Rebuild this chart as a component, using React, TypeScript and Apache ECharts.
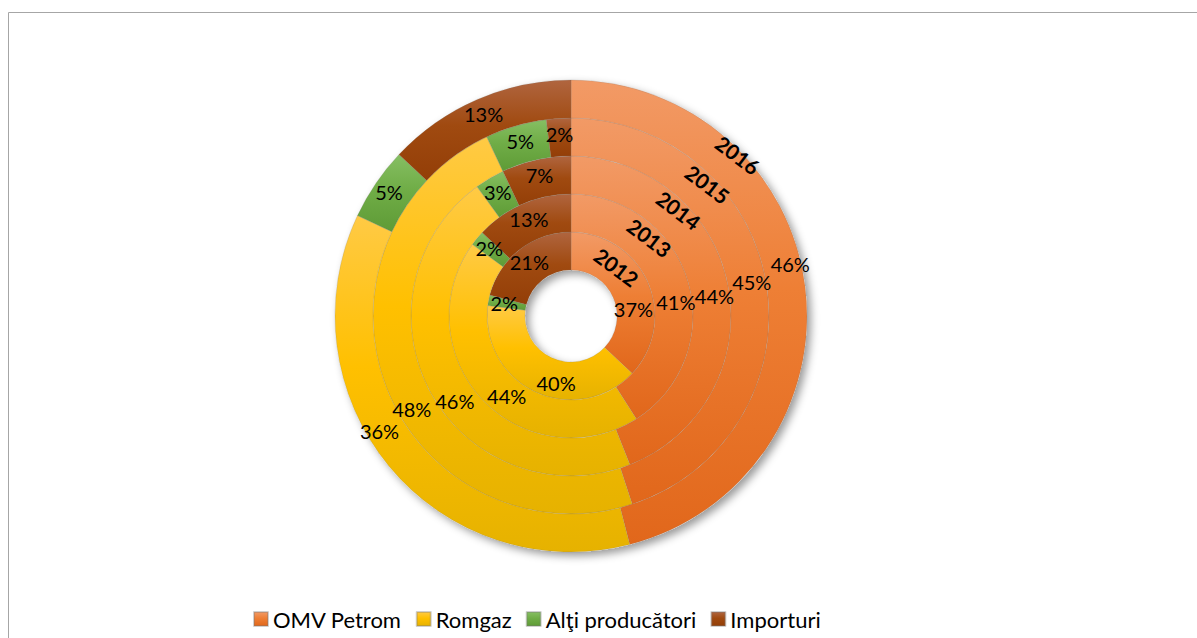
import React, { useEffect, useRef } from "react";
import * as echarts from "echarts";

const years = ["2012", "2013", "2014", "2015", "2016"];
const producers = ["OMV Petrom", "Romgaz", "Alţi producători", "Importuri"];
const omvPetrom = [37, 41, 44, 45, 46];
const romgaz = [40, 44, 46, 48, 36];
const altiProducatori = [2, 2, 3, 5, 5];
const importuri = [21, 13, 7, 2, 13];

// styling / layout (not data)
const CX = 571;
const CY = 316;
const HOLE = 46;
const RING = 38;
const palette = [
  ["#F29A66", "#EE7F35", "#E1671B"],
  ["#FFCA45", "#FFC000", "#E6B200"],
  ["#86BF63", "#70AD47", "#5E9B36"],
  ["#B0653F", "#A04A10", "#933E07"],
];
// manual label nudges [dx, dy] per ring, per producer
const labelNudge = [
  [[0, 20], [14, 5], [0, 0], [0, 0]],
  [[3, 16], [13, 7], [0, 0], [0, 0]],
  [[2, 7], [10, 16], [0, 0], [0, 0]],
  [[1, -6], [10, 26], [0, 0], [0, 0]],
  [[1, -24], [-22, -25], [0, 0], [0, 0]],
];
// year label placement: [radius, angle from top, clockwise]
const yearLabelPos = [
  [67, 43],
  [111, 45],
  [151, 45.5],
  [190, 46],
  [232, 46],
];

const FONT = "Lato, 'Open Sans', sans-serif";

export default function App() {
  const ref = useRef<HTMLDivElement>(null);
  useEffect(() => {
    if (!ref.current) return;
    const chart = echarts.init(ref.current, null, { renderer: "svg" });
    const allSeries = [omvPetrom, romgaz, altiProducatori, importuri];

    const grad = (c: string[]) =>
      new echarts.graphic.LinearGradient(0, 0, 0, 1, [
        { offset: 0, color: c[0] },
        { offset: 0.45, color: c[1] },
        { offset: 1, color: c[2] },
      ]);

    const ringSeries = years.map((yr, yi) => ({
      type: "pie",
      name: yr,
      center: [CX, CY],
      radius: [HOLE + yi * RING, HOLE + (yi + 1) * RING],
      startAngle: 90,
      clockwise: true,
      avoidLabelOverlap: false,
      minShowLabelAngle: 0,
      z: 2,
      label: {
        show: true,
        position: "inside",
        formatter: "{c}%",
        color: "#000",
        fontFamily: FONT,
        fontSize: 20,
      },
      labelLine: { show: false },
      labelLayout: (p: any) => {
        const n = labelNudge[yi][p.dataIndex] || [0, 0];
        return { dx: n[0], dy: n[1] };
      },
      itemStyle: {
        borderColor: "rgba(120,120,120,0.35)",
        borderWidth: 0.6,
      },
      emphasis: { disabled: true },
      data: producers.map((p, pi) => ({
        name: p,
        value: allSeries[pi][yi],
        itemStyle: { color: grad(palette[pi]) },
      })),
    }));

    const shadowSeries = {
      type: "pie",
      name: "shadow",
      center: [CX, CY],
      radius: [HOLE, HOLE + years.length * RING],
      silent: true,
      z: 1,
      label: { show: false },
      labelLine: { show: false },
      itemStyle: {
        color: "#ffffff",
        shadowBlur: 9,
        shadowOffsetX: 4,
        shadowOffsetY: 4,
        shadowColor: "rgba(0,0,0,0.4)",
      },
      data: [{ name: "", value: 1 }],
    };

    const yearTexts = years.map((yr, yi) => {
      const [r, a] = yearLabelPos[yi];
      const rad = (a * Math.PI) / 180;
      return {
        type: "text",
        x: CX + r * Math.sin(rad),
        y: CY - r * Math.cos(rad),
        rotation: (-37 * Math.PI) / 180,
        z: 100,
        style: {
          text: yr,
          fill: "#000",
          font: `bold 21px ${FONT}`,
          align: "center",
          verticalAlign: "middle",
        },
      };
    });

    chart.setOption({
      animation: false,
      backgroundColor: "#ffffff",
      legend: {
        data: producers,
        left: 248,
        top: 603,
        icon: "rect",
        itemWidth: 14,
        itemHeight: 14,
        itemGap: 14,
        textStyle: { fontFamily: FONT, fontSize: 22, color: "#000" },
        selectedMode: false,
      },
      graphic: [
        {
          type: "rect",
          shape: { x: 8.5, y: 12.5, width: 1400, height: 800 },
          style: { fill: "none", stroke: "#A6A6A6", lineWidth: 1 },
          silent: true,
        },
        ...yearTexts,
      ],
      series: [shadowSeries, ...ringSeries],
    });
    return () => chart.dispose();
  }, []);
  return (
    <div
      ref={ref}
      style={{ position: "fixed", left: 0, top: 0, width: 1197, height: 638 }}
    />
  );
}
